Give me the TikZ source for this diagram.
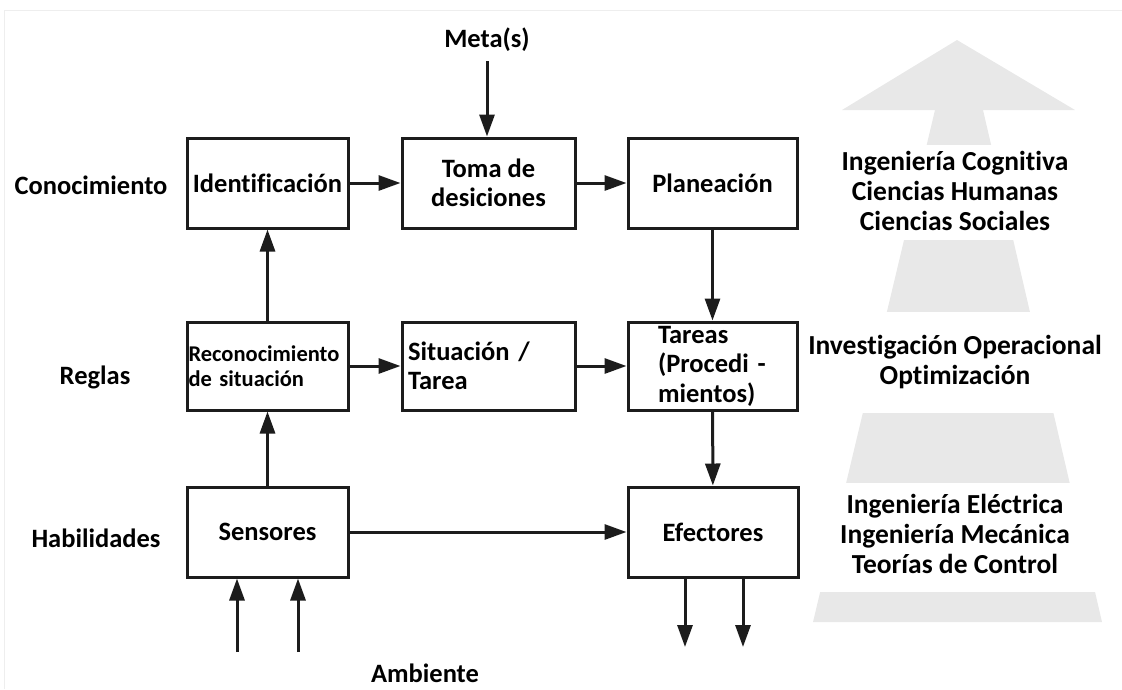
\documentclass[tikz,border=0pt]{standalone}
\usepackage{fontspec}
\setmainfont{Carlito}[Ligatures=NoCommon]
\usetikzlibrary{arrows.meta}
\definecolor{arrowgray}{RGB}{232,232,232}
\definecolor{framegray}{RGB}{238,238,238}
\definecolor{ink}{RGB}{28,28,28}
\begin{document}
\begin{tikzpicture}[x=1pt,y=-1pt,
  every node/.style={font=\bfseries\fontsize{26.5}{29.5}\selectfont, inner sep=0pt},
  list/.style={font=\bfseries\fontsize{27.5}{30}\selectfont, align=center},
  blk/.style={draw=ink, line width=3pt, fill=white, minimum height=90pt},
  small/.style={font=\bfseries\fontsize{22.5}{25}\selectfont},
  flow/.style={draw=ink, line width=3pt, -{Triangle[length=22pt,width=15pt]}},
]
\useasboundingbox (0,0) rectangle (1122,689);

% faint page frame
\draw[framegray, line width=1pt] (4,689) -- (4,10) -- (1122,10);

% wide background arrow, cut by white bands behind the discipline lists
\fill[arrowgray] (957,40) -- (1075,110) -- (983,110) -- (1102,622)
  -- (813,622) -- (935,110) -- (842,110) -- cycle;
\fill[white] (815,145) rectangle (1108,240);
\fill[white] (815,312) rectangle (1108,413);
\fill[white] (815,483) rectangle (1108,592);

% disciplines per level
\node[list] (cog) at (955,191) {Ingeniería Cognitiva\\Ciencias Humanas\\Ciencias Sociales};
\node[list] (ope) at (955,362) {Investigación Operacional\\Optimización};
\node[list] (ing) at (955,534) {Ingeniería Eléctrica\\Ingeniería Mecánica\\ Teorías de Control};

% level labels
\node (conoc) at (91,185) {Conocimiento};
\node (reglas) at (95,377) {Reglas};
\node (habil) at (96,538) {Habilidades};

% blocks
\node[blk, minimum width=161pt] (ident) at (267.5,183) {Identificación};
\node[blk, minimum width=173pt, align=center] (toma) at (488.5,183) {Toma de\\desiciones};
\node[blk, minimum width=169pt] (plan) at (712.5,183) {Planeación};

\node[blk, small, minimum width=161pt, minimum height=88pt, text width=158pt, align=left]
  (recon) at (267.5,366) {Reconocimiento\\de situación};
\node[blk, minimum width=173pt, minimum height=88pt, text width=161pt, align=left]
  (sit) at (488.5,366) {Situación~/\\Tarea};
\node[blk, minimum width=169pt, minimum height=88pt, text width=109pt, align=left]
  (tareas) at (712.5,366) {Tareas\\(Procedi~-\\mientos)};

\node[blk, minimum width=161pt] (sens) at (267.5,532) {Sensores};
\node[blk, minimum width=170pt] (efec) at (713,532) {Efectores};

% goals and environment
\node (meta) at (487,40) {Meta(s)};
\node (amb) at (425,673) {Ambiente};
\coordinate (in1) at (237,652);
\coordinate (in2) at (298,652);
\coordinate (out1) at (685,647);
\coordinate (out2) at (743,647);

% connectors
\draw[flow, shorten <=9pt] (meta.south) -- (meta.south |- toma.north);
\draw[flow] (ident) -- (toma);
\draw[flow] (toma) -- (plan);
\draw[flow] (plan) -- (tareas);
\draw[flow] (recon) -- (ident);
\draw[flow] (recon) -- (sit);
\draw[flow] (sit) -- (tareas);
\draw[flow] (sens) -- (recon);
\draw[flow] (tareas) -- (efec);
\draw[flow] (sens) -- (efec);
\draw[flow] (in1) -- (in1 |- sens.south);
\draw[flow] (in2) -- (in2 |- sens.south);
\draw[flow] (out1 |- efec.south) -- (out1);
\draw[flow] (out2 |- efec.south) -- (out2);
\end{tikzpicture}
\end{document}
